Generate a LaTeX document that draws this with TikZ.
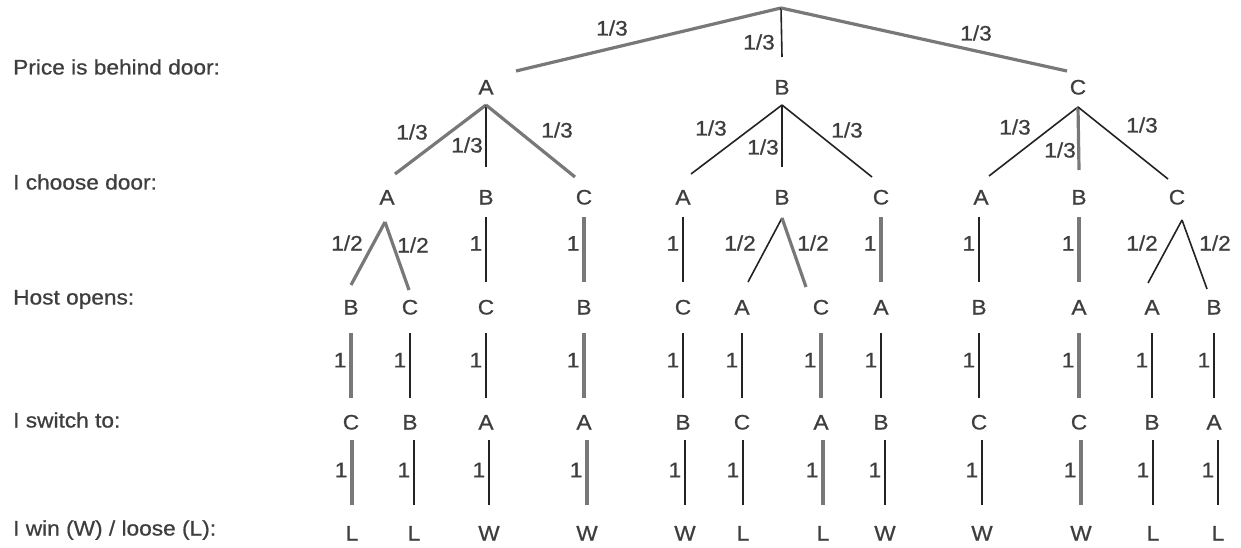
\documentclass[tikz,border=0pt]{standalone}
\usepackage{fontspec}
\setmainfont{Liberation Sans}[FakeStretch=1.08,FakeBold=0.7]
\definecolor{txt}{RGB}{62,62,62}
\definecolor{lgray}{RGB}{120,120,120}
\definecolor{ldark}{RGB}{35,35,35}
\newcommand\mhvert[6]{%
  \draw[#1, shorten <=#4pt, shorten >=#5pt] (#2.center -| #3.center) -- node[pos=#6, left=3pt, lab]{1} (#3.center);}
\begin{document}
\begin{tikzpicture}[x=1pt,y=-1pt,
  lab/.style={inner sep=0pt, text height=15pt, text depth=0pt, text=txt, font=\fontsize{21}{25}\selectfont},
  rowlab/.style={lab, anchor=west},
  gl/.style={draw=lgray, line width=3.2pt},
  bl/.style={draw=ldark, line width=1.6pt}]
\fill[white] (0,0) rectangle (1241,548);
\useasboundingbox (0,0) rectangle (1241,548);

% row labels
\node[rowlab] (r1) at (13,67) {Price is behind door:};
\node[rowlab] (r2) at (13,182) {I choose door:};
\node[rowlab] (r3) at (13,297) {Host opens:};
\node[rowlab] (r4) at (13,420) {I switch to:};
\node[rowlab] (r5) at (13,528) {I win (W) / loose (L):};

% root and level 1
\coordinate (root) at (781,8);
\node[lab] (n1a) at (486,87) {A};
\node[lab] (n1b) at (782,87) {B};
\node[lab] (n1c) at (1078,87) {C};

% level 2
\node[lab] (n21) at (387,197) {A};
\node[lab] (n22) at (486,197) {B};
\node[lab] (n23) at (584,197) {C};
\node[lab] (n24) at (683,197) {A};
\node[lab] (n25) at (782,197) {B};
\node[lab] (n26) at (881,197) {C};
\node[lab] (n27) at (981,197) {A};
\node[lab] (n28) at (1079,197) {B};
\node[lab] (n29) at (1177,197) {C};

% level 3
\node[lab] (n31) at (351,307) {B};
\node[lab] (n32) at (410,307) {C};
\node[lab] (n33) at (486,307) {C};
\node[lab] (n34) at (584,307) {B};
\node[lab] (n35) at (683,307) {C};
\node[lab] (n36) at (742,307) {A};
\node[lab] (n37) at (821,307) {C};
\node[lab] (n38) at (881,307) {A};
\node[lab] (n39) at (979,307) {B};
\node[lab] (n310) at (1079,307) {A};
\node[lab] (n311) at (1152,307) {A};
\node[lab] (n312) at (1214,307) {B};

% level 4
\node[lab] (n41) at (351,422) {C};
\node[lab] (n42) at (410,422) {B};
\node[lab] (n43) at (486,422) {A};
\node[lab] (n44) at (584,422) {A};
\node[lab] (n45) at (683,422) {B};
\node[lab] (n46) at (742,422) {C};
\node[lab] (n47) at (821,422) {A};
\node[lab] (n48) at (881,422) {B};
\node[lab] (n49) at (979,422) {C};
\node[lab] (n410) at (1079,422) {C};
\node[lab] (n411) at (1152,422) {B};
\node[lab] (n412) at (1214,422) {A};

% level 5
\node[lab] (n51) at (352,533) {L};
\node[lab] (n52) at (414,533) {L};
\node[lab] (n53) at (489,533) {W};
\node[lab] (n54) at (587,533) {W};
\node[lab] (n55) at (685,533) {W};
\node[lab] (n56) at (743,533) {L};
\node[lab] (n57) at (823,533) {L};
\node[lab] (n58) at (885,533) {W};
\node[lab] (n59) at (982,533) {W};
\node[lab] (n510) at (1081,533) {W};
\node[lab] (n511) at (1153,533) {L};
\node[lab] (n512) at (1218,533) {L};

% root edges
\draw[gl] (root) -- ([shift={(30,-16)}]n1a.center);
\draw[bl] (root) -- ([shift={(0,-30)}]n1b.center);
\draw[gl] (root) -- ([shift={(-11,-16)}]n1c.center);
\node[lab] (f01) at (612,28) {1/3};
\node[lab] (f02) at (759,42) {1/3};
\node[lab] (f03) at (976,33) {1/3};

% level 1 -> 2
\draw[gl] ([shift={(0,18)}]n1a.center) -- ([shift={(8,-23)}]n21.center);
\draw[bl] ([shift={(0,18)}]n1a.center) -- ([shift={(0,-30)}]n22.center);
\draw[gl] ([shift={(0,18)}]n1a.center) -- ([shift={(-9,-20)}]n23.center);
\draw[bl] ([shift={(0,18)}]n1b.center) -- ([shift={(8,-23)}]n24.center);
\draw[bl] ([shift={(0,18)}]n1b.center) -- ([shift={(0,-30)}]n25.center);
\draw[bl] ([shift={(0,18)}]n1b.center) -- ([shift={(-9,-20)}]n26.center);
\draw[bl] ([shift={(0,20)}]n1c.center) -- ([shift={(8,-21)}]n27.center);
\draw[gl] ([shift={(0,20)}]n1c.center) -- ([shift={(0,-27)}]n28.center);
\draw[bl] ([shift={(0,20)}]n1c.center) -- ([shift={(-9,-18)}]n29.center);
\node[lab] (f11) at (412,132) {1/3};
\node[lab] (f12) at (467,145) {1/3};
\node[lab] (f13) at (557,130) {1/3};
\node[lab] (f14) at (711,128) {1/3};
\node[lab] (f15) at (763,147) {1/3};
\node[lab] (f16) at (847,130) {1/3};
\node[lab] (f17) at (1015,127) {1/3};
\node[lab] (f18) at (1060,150) {1/3};
\node[lab] (f19) at (1142,125) {1/3};

% level 2 -> 3
\draw[gl] ([shift={(-2,25)}]n21.center) -- ([shift={(0,-22)}]n31.center);
\draw[gl] ([shift={(-2,25)}]n21.center) -- ([shift={(-1,-17)}]n32.center);
\mhvert{bl}{n22}{n33}{20}{25}{.42}
\mhvert{gl}{n23}{n34}{20}{25}{.42}
\mhvert{bl}{n24}{n35}{20}{25}{.42}
\draw[bl] ([shift={(0,21)}]n25.center) -- ([shift={(6,-25)}]n36.center);
\draw[gl] ([shift={(0,21)}]n25.center) -- ([shift={(-15,-20)}]n37.center);
\mhvert{gl}{n26}{n38}{20}{25}{.42}
\mhvert{bl}{n27}{n39}{20}{25}{.42}
\mhvert{gl}{n28}{n310}{20}{25}{.42}
\draw[bl] ([shift={(5,23)}]n29.center) -- ([shift={(-4,-24)}]n311.center);
\draw[bl] ([shift={(5,23)}]n29.center) -- ([shift={(-7,-18)}]n312.center);
\node[lab] (f21) at (347,243) {1/2};
\node[lab] (f22) at (413,245) {1/2};
\node[lab] (f23) at (740,243) {1/2};
\node[lab] (f24) at (813,243) {1/2};
\node[lab] (f25) at (1142,243) {1/2};
\node[lab] (f26) at (1215,243) {1/2};

% level 3 -> 4
\mhvert{gl}{n31}{n41}{26}{24}{.46}
\mhvert{bl}{n32}{n42}{26}{24}{.46}
\mhvert{bl}{n33}{n43}{26}{24}{.46}
\mhvert{gl}{n34}{n44}{26}{24}{.46}
\mhvert{bl}{n35}{n45}{26}{24}{.46}
\mhvert{bl}{n36}{n46}{26}{24}{.46}
\mhvert{gl}{n37}{n47}{26}{24}{.46}
\mhvert{bl}{n38}{n48}{26}{24}{.46}
\mhvert{bl}{n39}{n49}{26}{24}{.46}
\mhvert{gl}{n310}{n410}{26}{24}{.46}
\mhvert{bl}{n311}{n411}{26}{24}{.46}
\mhvert{bl}{n312}{n412}{26}{24}{.46}

% level 4 -> 5
\mhvert{gl}{n41}{n51}{18}{28}{.43}
\mhvert{bl}{n42}{n52}{18}{28}{.43}
\mhvert{bl}{n43}{n53}{18}{28}{.43}
\mhvert{gl}{n44}{n54}{18}{28}{.43}
\mhvert{bl}{n45}{n55}{18}{28}{.43}
\mhvert{bl}{n46}{n56}{18}{28}{.43}
\mhvert{gl}{n47}{n57}{18}{28}{.43}
\mhvert{bl}{n48}{n58}{18}{28}{.43}
\mhvert{bl}{n49}{n59}{18}{28}{.43}
\mhvert{gl}{n410}{n510}{18}{28}{.43}
\mhvert{bl}{n411}{n511}{18}{28}{.43}
\mhvert{bl}{n412}{n512}{18}{28}{.43}
\end{tikzpicture}
\end{document}
